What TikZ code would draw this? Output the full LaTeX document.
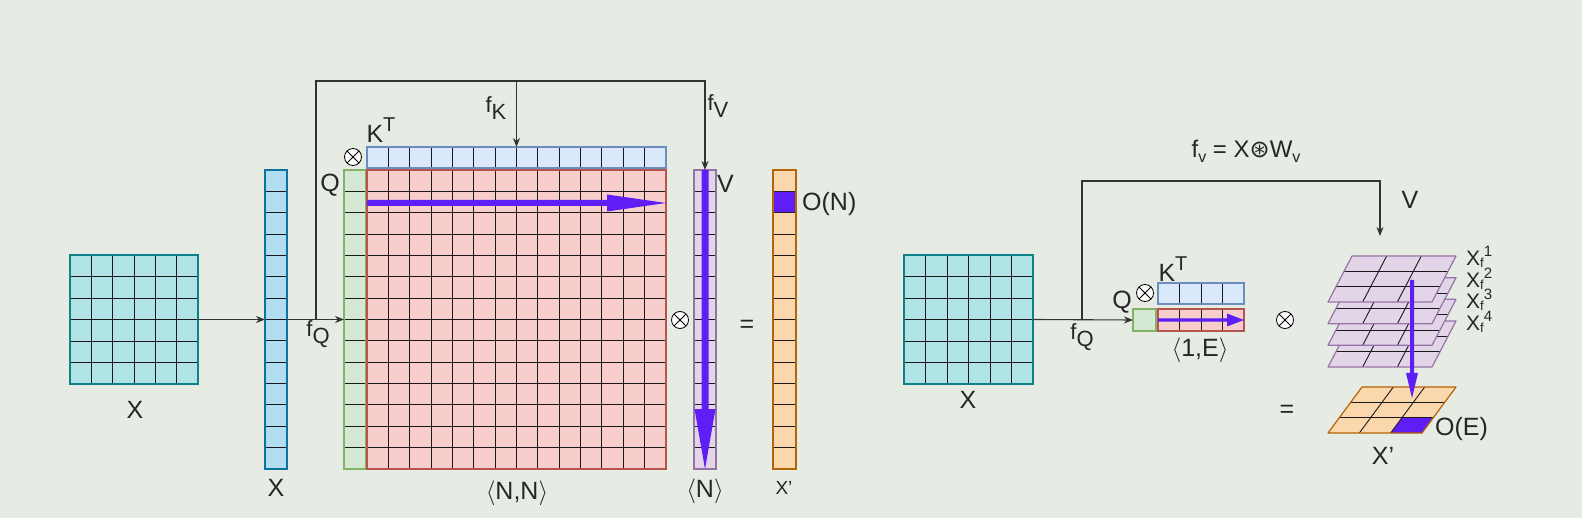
\documentclass[tikz,border=0pt]{standalone}
\usepackage{fontspec}
\setmainfont{Liberation Sans}
\newfontfamily\dejavu{DejaVu Sans}
\usetikzlibrary{arrows.meta,calc}
\definecolor{bg}{HTML}{E6ECE3}
\definecolor{tealfill}{HTML}{B0E3E6}\definecolor{tealline}{HTML}{0E8088}
\definecolor{bluefill}{HTML}{B1DDF0}\definecolor{blueline}{HTML}{10739E}
\definecolor{greenfill}{HTML}{D5E8D4}\definecolor{greenline}{HTML}{82B366}
\definecolor{ltbluefill}{HTML}{DAE8FC}\definecolor{ltblueline}{HTML}{6C8EBF}
\definecolor{redfill}{HTML}{F8CECC}\definecolor{redline}{HTML}{B85450}
\definecolor{purplefill}{HTML}{E1D5E7}\definecolor{purpleline}{HTML}{9673A6}
\definecolor{orangefill}{HTML}{FAD7AC}\definecolor{orangeline}{HTML}{B46504}
\definecolor{vio}{RGB}{95,30,245}
\tikzset{
  conn/.style={draw=black!80, line width=1.1pt},
  arr/.style={conn, -{Stealth[length=9pt,width=7pt]}},
  gridline/.style={draw=black!90, line width=0.9pt},
  gridbox/.style={draw=#1line, fill=#1fill, line width=1.2pt, inner sep=0pt, outer sep=0pt},
  lbl/.style={inner sep=0pt, text=black!85, font=\fontsize{25}{29}\selectfont},
  mlbl/.style={inner sep=0pt, text=black!85, font=\fontsize{22}{26}\selectfont},
  slbl/.style={inner sep=0pt, text=black!85, font=\fontsize{19}{22}\selectfont},
  xlbl/.style={inner sep=0pt, text=black!85, font=\fontsize{21}{24}\selectfont},
  otimes/.style={circle, draw=black, fill=white, line width=0.8pt, minimum size=17pt, inner sep=0pt,
    path picture={\draw[line width=0.8pt] (path picture bounding box.north west) -- (path picture bounding box.south east)
      (path picture bounding box.north east) -- (path picture bounding box.south west);}},
  bigarr/.style={fill=vio, draw=none}
}
\newcommand{\mygrid}[8]{%
  \node[gridbox=#8, minimum width={1pt*(#4-(#2))}, minimum height={1pt*(#5-(#3))}, anchor=north west] (#1) at (#2,#3) {};
  \pgfmathsetmacro\mgdx{(#4-(#2))/#6}%
  \pgfmathsetmacro\mgdy{(#5-(#3))/#7}%
  \pgfmathtruncatemacro\mgnx{#6-1}%
  \pgfmathtruncatemacro\mgny{#7-1}%
  \ifnum#6>1 \foreach \mgi in {1,...,\mgnx}{\draw[gridline] ({#2+\mgi*\mgdx},#3) -- ({#2+\mgi*\mgdx},#5);}\fi
  \ifnum#7>1 \foreach \mgi in {1,...,\mgny}{\draw[gridline] (#2,{#3+\mgi*\mgdy}) -- (#4,{#3+\mgi*\mgdy});}\fi
  \draw[draw=#8line, line width=1.2pt] (#1.north west) rectangle (#1.south east);
}
\newcommand{\xflabel}[1]{X\raisebox{-0.12em}{\fontsize{13}{14}\selectfont f}\raisebox{0.4em}{\fontsize{15}{16}\selectfont #1}}
\begin{document}
\begin{tikzpicture}[x=1pt,y=-1pt]
\fill[bg] (0,0) rectangle (1582,518);
\useasboundingbox (0,0) rectangle (1582,518);

% ---------------- left part ----------------
\mygrid{gxa}{70}{255}{198}{384}{6}{6}{teal}
\node[lbl] (lxa) at (135,410) {X};
\mygrid{cx}{265}{170}{287}{469}{1}{14}{blue}
\node[lbl] (lcx) at (276,488) {X};
\mygrid{cq}{344}{170}{366}{469}{1}{14}{green}
\node[lbl] (lq) at (330,185) {Q};
\mygrid{kt}{367}{147}{666}{168}{14}{1}{ltblue}
\node[lbl] (lkt) at (381,130) {K\raisebox{0.45em}{\fontsize{20}{22}\selectfont T}};
\mygrid{mat}{367}{170}{666}{469}{14}{14}{red}
\node[lbl] (lnn) at (517,493) {$\langle$N,N$\rangle$};
\mygrid{cv}{694}{170}{716}{469}{1}{14}{purple}
\node[lbl, anchor=west] (lv) at (717,184) {V};
\node[lbl] (ln) at (705,491) {$\langle$N$\rangle$};
\mygrid{cxp}{773}{170}{796}{469}{1}{14}{orange}
\filldraw[fill=vio, draw=black!85, line width=0.9pt] (773,191.36) rectangle (796,212.71);
\draw[orangeline, line width=1.2pt] (cxp.north west) rectangle (cxp.south east);
\node[lbl, anchor=west] (lon) at (802,204) {O(N)};
\node[slbl] (lxp) at (784,488) {X'};

\node[otimes] (oa) at (353,157) {};
\node[otimes] (ob) at (680,320) {};
\node[lbl] (eqa) at (747,326) {=};

% big arrows
\fill[bigarr] (367,200) -- (607,200) -- (607,194.5) -- (666,203) -- (607,211.5) -- (607,206) -- (367,206) -- cycle;
\fill[bigarr] (701.5,170) -- (708.5,170) -- (708.5,409) -- (715.5,409) -- (705,469) -- (694.5,409) -- (701.5,409) -- cycle;

% connectors
\coordinate (ba) at (316,319.5);
\coordinate (tla) at (316,81);
\coordinate (tra) at (705,81);
\draw[arr] (gxa.east) -- (cx.west);
\draw[arr] (cx.east) -- (cq.west);
\draw[arr] (ba) -- (tla) -- (tra) -- (cv.north);
\draw[arr] (kt.north |- tla) -- (kt.north);
\node[mlbl] (lfq) at (318,334) {f\raisebox{-0.3em}{Q}};
\node[mlbl] (lfk) at (496,108) {f\raisebox{-0.3em}{K}};
\node[mlbl] (lfv) at (718,106) {f\raisebox{-0.3em}{V}};

% ---------------- right part ----------------
\mygrid{gxb}{904}{255}{1033}{384}{6}{6}{teal}
\node[lbl] (lxb) at (968,400) {X};
\mygrid{sq}{1133}{309}{1156}{331}{1}{1}{green}
\node[lbl] (lsq) at (1122,302) {Q};
\mygrid{skt}{1158}{283}{1244}{304}{4}{1}{ltblue}
\node[lbl] (lskt) at (1173,269) {K\raisebox{0.45em}{\fontsize{20}{22}\selectfont T}};
\mygrid{srow}{1158}{309}{1244}{331}{4}{1}{red}
\fill[bigarr] (1158,318.3) -- (1227,318.3) -- (1227,313.5) -- (1244,320) -- (1227,326.5) -- (1227,321.7) -- (1158,321.7) -- cycle;
\node[otimes] (oc) at (1145,293) {};
\node[lbl] (l1e) at (1200,350) {$\langle$1,E$\rangle$};
\node[otimes] (od) at (1285,320) {};
\node[lbl] (eqb) at (1287,411) {=};

\coordinate (bb) at (1082,319.5);
\coordinate (tlb) at (1082,181);
\coordinate (trb) at (1380,181);
\coordinate (vend) at (1380,236);
\draw[arr] (gxb.east) -- (sq.west);
\draw[arr] (bb) -- (tlb) -- (trb) -- (vend);
\node[mlbl] (lfq2) at (1082,337) {f\raisebox{-0.3em}{Q}};
\node[lbl] (lv2) at (1410,200) {V};
\node[inner sep=0pt, text=black!85, font=\fontsize{24}{28}\selectfont] (lfv2) at (1246,151) {f\raisebox{-0.2em}{\fontsize{16}{17}\selectfont v} = X{\dejavu ⊛}W\raisebox{-0.2em}{\fontsize{16}{17}\selectfont v}};

% stacked layers
\foreach \k in {4,3,2,1}{
  \pgfmathsetmacro\mylb{302+(\k-1)*21.67}
  \pgfmathsetmacro\mylt{\mylb-46}
  \coordinate (L\k bl) at (1328,\mylb);
  \coordinate (L\k br) at (1432,\mylb);
  \coordinate (L\k tr) at (1456,\mylt);
  \coordinate (L\k tl) at (1352,\mylt);
  \fill[purplefill] (L\k bl) -- (L\k br) -- (L\k tr) -- (L\k tl) -- cycle;
  \foreach \s in {0.3333,0.6667}{
    \draw[gridline] ($(L\k tl)!\s!(L\k tr)$) -- ($(L\k bl)!\s!(L\k br)$);
    \draw[gridline] ($(L\k tl)!\s!(L\k bl)$) -- ($(L\k tr)!\s!(L\k br)$);
  }
  \draw[purpleline, line width=1.2pt, line join=round] (L\k bl) -- (L\k br) -- (L\k tr) -- (L\k tl) -- cycle;
}
% output layer
\coordinate (Obl) at (1328,433);
\coordinate (Obr) at (1422,433);
\coordinate (Otr) at (1456,387);
\coordinate (Otl) at (1362,387);
\fill[orangefill] (Obl) -- (Obr) -- (Otr) -- (Otl) -- cycle;
\fill[vio] ($($(Otl)!0.6667!(Obl)$)!0.6667!($(Otr)!0.6667!(Obr)$)$) -- ($(Otr)!0.6667!(Obr)$) -- (Obr) -- ($(Obl)!0.6667!(Obr)$) -- cycle;
\foreach \s in {0.3333,0.6667}{
  \draw[gridline] ($(Otl)!\s!(Otr)$) -- ($(Obl)!\s!(Obr)$);
  \draw[gridline] ($(Otl)!\s!(Obl)$) -- ($(Otr)!\s!(Obr)$);
}
\draw[orangeline, line width=1.2pt, line join=round] (Obl) -- (Obr) -- (Otr) -- (Otl) -- cycle;
\fill[bigarr] (1410,280) -- (1414,280) -- (1414,373) -- (1418,373) -- (1412,398) -- (1406,373) -- (1410,373) -- cycle;

\node[xlbl, anchor=west] (lf1) at (1466,257) {\xflabel{1}};
\node[xlbl, anchor=west] (lf2) at (1466,279) {\xflabel{2}};
\node[xlbl, anchor=west] (lf3) at (1466,300) {\xflabel{3}};
\node[xlbl, anchor=west] (lf4) at (1466,322) {\xflabel{4}};
\node[lbl, anchor=west] (loe) at (1435,429) {O(E)};
\node[lbl] (lxp2) at (1383,456) {X'};
\end{tikzpicture}
\end{document}
